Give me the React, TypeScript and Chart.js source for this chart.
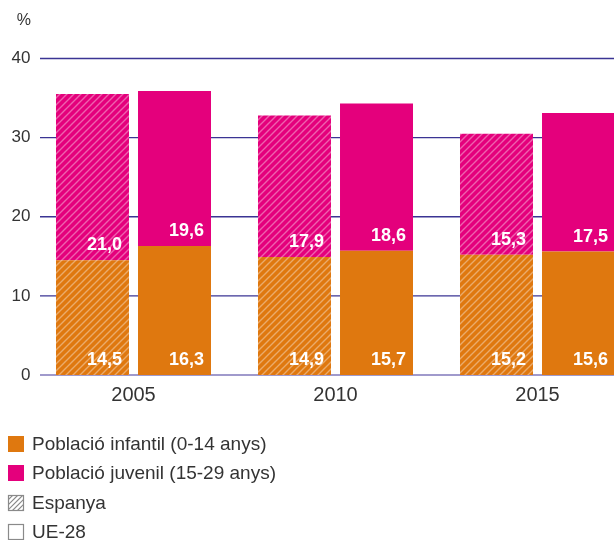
import React, { useEffect, useRef } from 'react';
import { Chart, registerables } from 'chart.js';

Chart.register(...registerables);

const categories = ['2005', '2010', '2015'];
const espanyaInfantil = [14.5, 14.9, 15.2];
const espanyaJuvenil = [21.0, 17.9, 15.3];
const ueInfantil = [16.3, 15.7, 15.6];
const ueJuvenil = [19.6, 18.6, 17.5];
const yTickValues = [0, 10, 20, 30, 40];
const legendLabels = ['Població infantil (0-14 anys)', 'Població juvenil (15-29 anys)', 'Espanya', 'UE-28'];
const unitLabel = '%';

const ORANGE = '#df780f';
const MAGENTA = '#e4007c';
const TEXT = '#333333';
const FONT = '"Liberation Sans", Arial, sans-serif';

function makeHatch(color: string): CanvasPattern | string {
  const c = document.createElement('canvas');
  const s = 7;
  c.width = s;
  c.height = s;
  const ctx = c.getContext('2d');
  if (!ctx) return color;
  ctx.fillStyle = color;
  ctx.fillRect(0, 0, s, s);
  ctx.strokeStyle = 'rgba(255,255,255,0.38)';
  ctx.lineWidth = 1.4;
  ctx.beginPath();
  ctx.moveTo(-1, s + 1);
  ctx.lineTo(s + 1, -1);
  ctx.moveTo(-1, 1);
  ctx.lineTo(1, -1);
  ctx.moveTo(s - 1, s + 1);
  ctx.lineTo(s + 1, s - 1);
  ctx.stroke();
  const p = ctx.createPattern(c, 'repeat');
  return p || color;
}

const fmt = (v: number) => v.toFixed(1).replace('.', ',');

export default function App() {
  const ref = useRef<HTMLCanvasElement | null>(null);

  useEffect(() => {
    if (!ref.current) return;
    const orangeHatch = makeHatch(ORANGE);
    const magentaHatch = makeHatch(MAGENTA);

    const gridPlugin = {
      id: 'customGrid',
      beforeDatasetsDraw(chart: any) {
        const ctx = chart.ctx;
        const y = chart.scales.y;
        ctx.save();
        yTickValues.forEach((v) => {
          const py = y.getPixelForValue(v);
          ctx.beginPath();
          if (v === 0) {
            ctx.strokeStyle = '#8179bb';
            ctx.lineWidth = 1.5;
          } else {
            ctx.strokeStyle = '#3b3494';
            ctx.lineWidth = 1.3;
          }
          ctx.moveTo(40, py);
          ctx.lineTo(chart.width, py);
          ctx.stroke();
        });
        ctx.restore();
      },
      afterDatasetsDraw(chart: any) {
        const ctx = chart.ctx;
        ctx.save();
        ctx.font = `bold 18px ${FONT}`;
        ctx.fillStyle = '#ffffff';
        ctx.textAlign = 'right';
        ctx.textBaseline = 'alphabetic';
        chart.data.datasets.forEach((ds: any, di: number) => {
          const meta = chart.getDatasetMeta(di);
          meta.data.forEach((bar: any, i: number) => {
            const props = bar.getProps(['x', 'y', 'base', 'width'], true);
            const right = props.x + props.width / 2 - 7;
            const base = Math.max(props.y, props.base);
            ctx.fillText(fmt(ds.data[i]), right, base - 10);
          });
        });
        ctx.restore();
      },
      afterDraw(chart: any) {
        const ctx = chart.ctx;
        ctx.save();
        // unit label
        ctx.font = `16px ${FONT}`;
        ctx.fillStyle = TEXT;
        ctx.textAlign = 'right';
        ctx.textBaseline = 'middle';
        ctx.fillText(unitLabel, 31, 21);
        // legend
        const rows = [444, 473, 503, 532];
        ctx.textAlign = 'left';
        ctx.font = `19px ${FONT}`;
        rows.forEach((cy, i) => {
          const x0 = 8;
          const y0 = cy - 8;
          if (i === 0) {
            ctx.fillStyle = ORANGE;
            ctx.fillRect(x0, y0, 16, 16);
          } else if (i === 1) {
            ctx.fillStyle = MAGENTA;
            ctx.fillRect(x0, y0, 16, 16);
          } else {
            ctx.strokeStyle = '#8a8a8a';
            ctx.lineWidth = 1.2;
            ctx.strokeRect(x0 + 0.5, y0 + 0.5, 15, 15);
            if (i === 2) {
              ctx.save();
              ctx.beginPath();
              ctx.rect(x0 + 0.5, y0 + 0.5, 15, 15);
              ctx.clip();
              ctx.beginPath();
              for (let k = -16; k <= 16; k += 5) {
                ctx.moveTo(x0 + k, y0 + 16);
                ctx.lineTo(x0 + k + 16, y0);
              }
              ctx.stroke();
              ctx.restore();
            }
          }
          ctx.fillStyle = TEXT;
          ctx.textBaseline = 'middle';
          ctx.fillText(legendLabels[i], 32, cy + 1);
        });
        ctx.restore();
      },
    };

    const chart = new Chart(ref.current, {
      type: 'bar',
      data: {
        labels: categories,
        datasets: [
          { label: 'Espanya infantil', data: espanyaInfantil, backgroundColor: orangeHatch as any, stack: 'es', borderWidth: 0 },
          { label: 'Espanya juvenil', data: espanyaJuvenil, backgroundColor: magentaHatch as any, stack: 'es', borderWidth: 0 },
          { label: 'UE-28 infantil', data: ueInfantil, backgroundColor: ORANGE, stack: 'ue', borderWidth: 0 },
          { label: 'UE-28 juvenil', data: ueJuvenil, backgroundColor: MAGENTA, stack: 'ue', borderWidth: 0 },
        ],
      },
      options: {
        responsive: false,
        animation: false,
        devicePixelRatio: 1,
        layout: { padding: { top: 58.5, right: 11.5, bottom: 125, left: 0 } },
        datasets: { bar: { categoryPercentage: 0.812, barPercentage: 0.89 } },
        plugins: { legend: { display: false }, tooltip: { enabled: false } },
        scales: {
          x: {
            stacked: true,
            grid: { display: false, drawTicks: false },
            border: { display: false },
            ticks: { color: TEXT, font: { family: FONT, size: 20 }, padding: 8 },
            afterFit: (s: any) => { s.height = 40; },
          },
          y: {
            stacked: true,
            min: 0,
            max: 40,
            grid: { display: false, drawTicks: false },
            border: { display: false },
            ticks: { stepSize: 10, color: TEXT, font: { family: FONT, size: 17 }, padding: 2 },
            afterFit: (s: any) => { s.width = 32.5; },
          },
        },
      },
      plugins: [gridPlugin],
    } as any);
    return () => chart.destroy();
  }, []);

  return (
    <div style={{ position: 'absolute', left: 0, top: 0, width: 614, height: 540, overflow: 'hidden' }}>
      <canvas ref={ref} width={650} height={540} style={{ display: 'block' }} />
    </div>
  );
}
